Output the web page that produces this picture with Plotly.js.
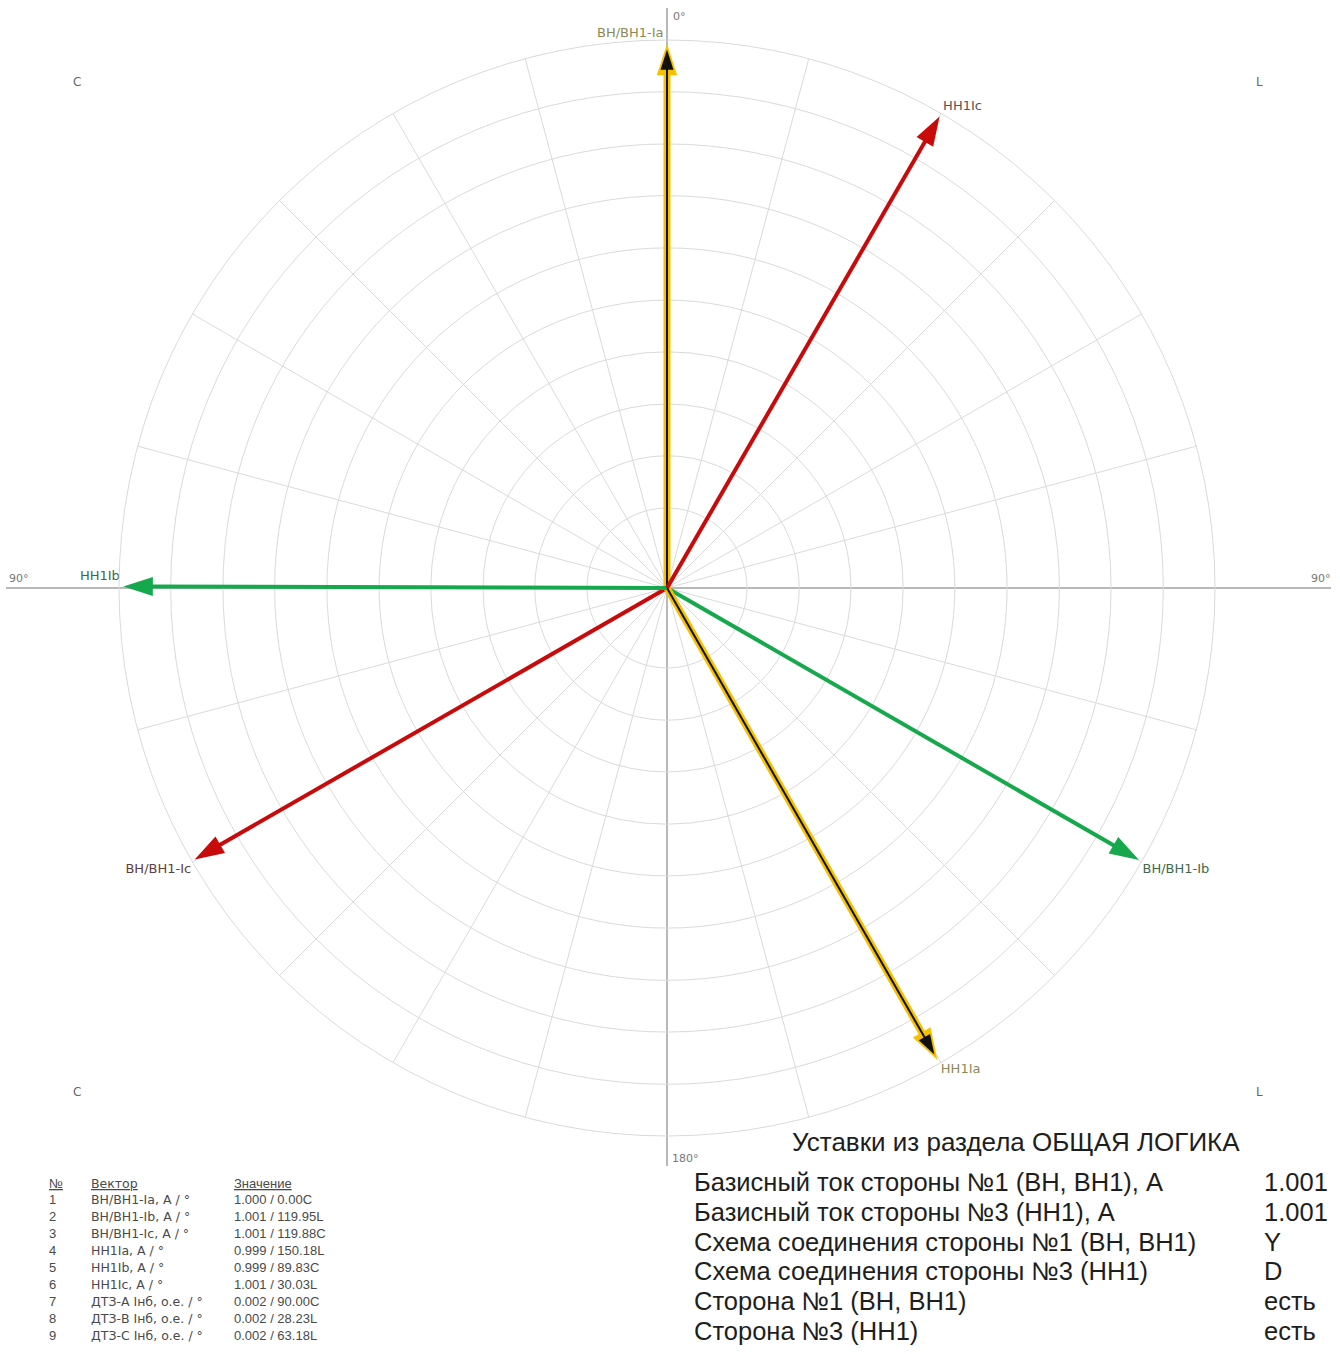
<!DOCTYPE html>
<html>
<head>
<meta charset="utf-8">
<script src="https://cdn.plot.ly/plotly-3.0.1.min.js"></script>
<style>
  html, body { margin: 0; padding: 0; background: #ffffff; }
  #chart { width: 1340px; height: 1354px; }
</style>
</head>
<body>
<div id="chart"></div>
<script>
// ---------------- DATA ----------------
const vectorNames  = ['ВН/ВН1-Ia', 'ВН/ВН1-Ib', 'ВН/ВН1-Ic', 'НН1Ia', 'НН1Ib', 'НН1Ic'];
const vectorPhases = ['a', 'b', 'c', 'a', 'b', 'c'];
const vectorMags   = [1.000, 1.001, 1.001, 0.999, 0.999, 1.001];
const vectorAngles = [0.00, 119.95, 119.88, 150.18, 89.83, 30.03];
const vectorDirs   = ['C', 'L', 'C', 'L', 'C', 'L'];

const diffNames  = ['ДТЗ-А Iнб, о.е. / °', 'ДТЗ-В Iнб, о.е. / °', 'ДТЗ-С Iнб, о.е. / °'];
const diffMags   = [0.002, 0.002, 0.002];
const diffAngles = [90.00, 28.23, 63.18];
const diffDirs   = ['C', 'L', 'L'];

const tableHeaders = ['№', 'Вектор', 'Значение'];

const settingsTitle  = 'Уставки из раздела ОБЩАЯ ЛОГИКА';
const settingsLabels = [
  'Базисный ток стороны №1 (ВН, ВН1), А',
  'Базисный ток стороны №3 (НН1), А',
  'Схема соединения стороны №1 (ВН, ВН1)',
  'Схема соединения стороны №3 (НН1)',
  'Сторона №1 (ВН, ВН1)',
  'Сторона №3 (НН1)'
];
const settingsValues = ['1.001', '1.001', 'Y', 'D', 'есть', 'есть'];

const axisLabels = ['0°', '90°', '90°', '180°'];
const cornerLabels = ['C', 'L', 'C', 'L'];

// grid rings (radial tick values) and spokes
const ringVals  = [0.147, 0.243, 0.338, 0.434, 0.529, 0.625, 0.721, 0.816, 0.912];
const spokeVals = [15, 30, 45, 60, 75, 105, 120, 135, 150, 165, 195, 210, 225, 240, 255, 285, 300, 315, 330, 345];
const radialMax = 1.007;

// ---------------- STYLE / GEOMETRY ----------------
const W = 1340, H = 1354;
const CX = 667, CY = 588, R = 548;
const px = x => x / W;
const py = y => 1 - y / H;

const phaseColor = { a: '#f5c000', b: '#16a84c', c: '#c80a0a' };
const labelColor = { 'ВН/ВН1-Ia': '#8a8a58', 'ВН/ВН1-Ib': '#3e6a4c', 'ВН/ВН1-Ic': '#5e3e3e',
                     'НН1Ia': '#8a8a58', 'НН1Ib': '#3a6848', 'НН1Ic': '#555555' };
const labelPos = { 'ВН/ВН1-Ia': 'top left', 'ВН/ВН1-Ib': 'bottom right', 'ВН/ВН1-Ic': 'bottom left',
                   'НН1Ia': 'bottom right', 'НН1Ib': 'top left', 'НН1Ic': 'top right' };

const signedAngle = (a, d) => d === 'L' ? a : -a;

// ---------------- TRACES ----------------
const traces = [];
const vecTrace = (r, th, color, width, headSize, standoff) => ({
  type: 'scatterpolar', mode: 'lines+markers',
  r: [0, r], theta: [th, th],
  line: { color: color, width: width },
  marker: { symbol: ['circle', 'arrow'], size: [0, headSize], angleref: 'previous',
            standoff: standoff || 0, opacity: 1, color: color, line: { width: 0 } },
  opacity: 1, hoverinfo: 'skip', showlegend: false
});
vectorNames.forEach((name, i) => {
  const th = signedAngle(vectorAngles[i], vectorDirs[i]);
  const ph = vectorPhases[i];
  if (ph === 'a') {
    traces.push(vecTrace(vectorMags[i], th, phaseColor.a, 7, 33, 0));
    traces.push(vecTrace(vectorMags[i], th, '#111111', 2, 21, 6));
  } else {
    traces.push(vecTrace(vectorMags[i], th, phaseColor[ph], 4, 31, 0));
  }
  traces.push({
    type: 'scatterpolar', mode: 'markers+text',
    r: [vectorMags[i]], theta: [th],
    marker: { size: 4, opacity: 0 },
    text: [name], textposition: labelPos[name],
    textfont: { family: 'DejaVu Sans', size: 13, color: labelColor[name] },
    hoverinfo: 'skip', showlegend: false
  });
});

// ---------------- ANNOTATIONS ----------------
const ann = [];
const addText = (text, x, y, opts) => ann.push(Object.assign({
  text: text, x: px(x), y: py(y), xref: 'paper', yref: 'paper',
  xanchor: 'left', yanchor: 'middle', showarrow: false,
  font: { family: 'DejaVu Sans', size: 11, color: '#777777' }
}, opts || {}));

// axis degree labels
addText(axisLabels[0], 671, 16);
addText(axisLabels[1], 7, 578);
addText(axisLabels[2], 1309, 578);
addText(axisLabels[3], 670, 1158);
// corner labels
const cornerFont = { family: 'DejaVu Sans', size: 12, color: '#666666' };
addText(cornerLabels[0], 77, 82, { xanchor: 'center', font: cornerFont });
addText(cornerLabels[1], 1259, 82, { xanchor: 'center', font: cornerFont });
addText(cornerLabels[2], 77, 1092, { xanchor: 'center', font: cornerFont });
addText(cornerLabels[3], 1259, 1092, { xanchor: 'center', font: cornerFont });

// table
const tblFont = { family: 'Liberation Sans', size: 13, color: '#4a4a4a' };
const tblNameFont = { family: 'DejaVu Sans', size: 12.5, color: '#4a4a4a' };
const u = s => '<span style="text-decoration:underline">' + s + '</span>';
addText(u(tableHeaders[0]), 47, 1183, { font: tblFont });
addText(u(tableHeaders[1]), 89, 1183, { font: tblNameFont });
addText(u(tableHeaders[2]), 232, 1183, { font: tblFont });
const tblNames = vectorNames.map(n => n + ', А / °').concat(diffNames);
const tblMags = vectorMags.concat(diffMags);
const tblAngles = vectorAngles.concat(diffAngles);
const tblDirs = vectorDirs.concat(diffDirs);
tblNames.forEach((n, i) => {
  const y = 1199 + 17 * i;
  addText(String(i + 1), 47, y, { font: tblFont });
  addText(n, 89, y, { font: tblNameFont });
  addText(tblMags[i].toFixed(3) + ' / ' + tblAngles[i].toFixed(2) + tblDirs[i], 232, y, { font: tblFont });
});

// settings block
const setFont = { family: 'Liberation Sans', size: 25.5, color: '#1e1e1e' };
addText(settingsTitle, 1016, 1142, { xanchor: 'center', font: { family: 'Liberation Sans', size: 26, color: '#1e1e1e' } });
settingsLabels.forEach((s, i) => {
  const y = 1182 + 29.8 * i;
  addText(s, 692, y, { font: setFont });
  addText(settingsValues[i], 1262, y, { font: setFont });
});

// ---------------- LAYOUT ----------------
const layout = {
  width: W, height: H,
  margin: { l: 0, r: 0, t: 0, b: 0 },
  paper_bgcolor: '#ffffff',
  showlegend: false,
  polar: {
    domain: { x: [px(CX - R), px(CX + R)], y: [py(CY + R), py(CY - R)] },
    bgcolor: 'rgba(0,0,0,0)',
    radialaxis: {
      range: [0, radialMax], tickmode: 'array', tickvals: ringVals,
      showticklabels: false, ticks: '', showline: false,
      gridcolor: '#dadada', gridwidth: 1
    },
    angularaxis: {
      rotation: 90, direction: 'clockwise',
      tickmode: 'array', tickvals: spokeVals,
      showticklabels: false, ticks: '',
      showline: true, linecolor: '#dadada', linewidth: 1,
      gridcolor: '#dadada', gridwidth: 1
    }
  },
  shapes: [
    { type: 'line', xref: 'paper', yref: 'paper', layer: 'below',
      x0: px(6), x1: px(1331), y0: py(CY), y1: py(CY), line: { color: '#a0a0a0', width: 1.5 } },
    { type: 'line', xref: 'paper', yref: 'paper', layer: 'below',
      x0: px(CX), x1: px(CX), y0: py(8), y1: py(1166), line: { color: '#a0a0a0', width: 1.5 } }
  ],
  annotations: ann
};

Plotly.newPlot('chart', traces, layout, { staticPlot: true, displayModeBar: false });
</script>
</body>
</html>
